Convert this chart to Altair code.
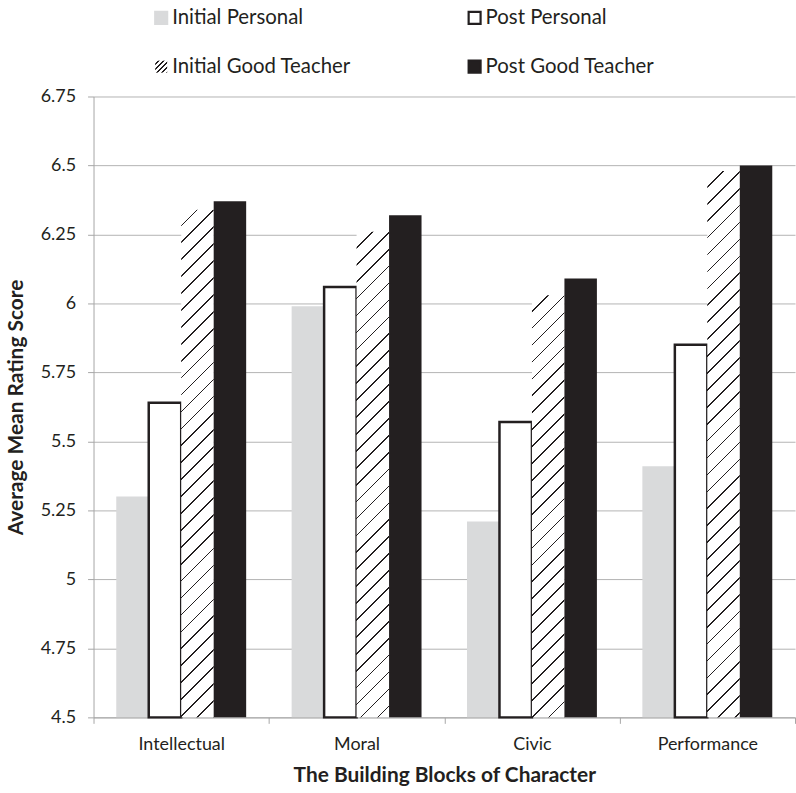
import altair as alt
import pandas as pd

# ---- data -------------------------------------------------------------
categories = ["Intellectual", "Moral", "Civic", "Performance"]
series = ["Initial Personal", "Post Personal", "Initial Good Teacher", "Post Good Teacher"]

initial_personal = [5.30, 5.99, 5.21, 5.41]
post_personal = [5.64, 6.06, 5.57, 5.85]
initial_good_teacher = [6.34, 6.26, 6.03, 6.48]
post_good_teacher = [6.37, 6.32, 6.09, 6.50]

y_ticks = [4.5, 4.75, 5.0, 5.25, 5.5, 5.75, 6.0, 6.25, 6.5, 6.75]

legend_col = [0, 1, 0, 1]
legend_row = [0, 0, 1, 1]

# ---- tables -----------------------------------------------------------
values_by_series = dict(zip(series, [initial_personal, post_personal,
                                     initial_good_teacher, post_good_teacher]))
rows = []
for s, vals in values_by_series.items():
    for c, v in zip(categories, vals):
        rows.append({"category": c, "series": s, "value": v})
df = pd.DataFrame(rows)

legend_df = pd.DataFrame({"label": series, "col": legend_col, "row": legend_row})

# ---- layout / style ---------------------------------------------------
PLOT_W, PLOT_H = 705, 624
Y_MIN, Y_MAX = y_ticks[0], y_ticks[-1]
OFFSET_PAD = 0.7
INK = "#231f20"
LIGHT = "#d9dadb"
FONT = "Lato"

band_w = PLOT_W / len(categories)
sub_w = band_w / (len(series) + 2 * OFFSET_PAD)


def hatch(width, height, period, thick, color=INK, bg="white"):
    """Diagonal '/' stripes as a bounding-box linear gradient."""
    length = width + height
    s = length / (width ** 2 + height ** 2)
    stops = []
    a = 0.0
    while a < length:
        b = min(a + period - thick, length)
        c = min(a + period, length)
        stops += [(a / length, bg), (b / length, bg), (b / length, color), (c / length, color)]
        a += period
    return alt.LinearGradient(
        gradient="linear",
        stops=[alt.GradientStop(offset=o, color=col) for o, col in stops],
        x1=0, y1=0, x2=width * s, y2=height * s,
    )


x_enc = alt.X(
    "category:N",
    sort=categories,
    scale=alt.Scale(domain=categories, paddingInner=0, paddingOuter=0),
    axis=alt.Axis(
        title="The Building Blocks of Character", labelAngle=0, tickBand="extent",
        tickSize=6, labelFontSize=18, labelPadding=12, titleFontSize=21,
        titleFontWeight="bold", titlePadding=11, grid=False,
    ),
)
xo_enc = alt.XOffset("series:N", scale=alt.Scale(domain=series, paddingInner=0, paddingOuter=OFFSET_PAD))
y_enc = alt.Y(
    "value:Q",
    scale=alt.Scale(domain=[Y_MIN, Y_MAX], zero=False, nice=False),
    axis=alt.Axis(
        values=y_ticks, labelExpr="'' + datum.value", title="Average Mean Rating Score",
        titleFontSize=21, titleFontWeight="bold", labelFontSize=18, tickSize=6,
        labelPadding=12, titlePadding=14, grid=True,
    ),
)

base = alt.Chart(df).encode(x=x_enc, xOffset=xo_enc, y=y_enc, y2=alt.datum(Y_MIN))

layers = [
    base.transform_filter(alt.datum.series == series[0]).mark_bar(color=LIGHT),
    base.transform_filter(alt.datum.series == series[1]).mark_bar(
        fill="white", stroke=INK, strokeWidth=2.5),
]
for c, v in zip(categories, initial_good_teacher):
    h = (v - Y_MIN) / (Y_MAX - Y_MIN) * PLOT_H
    layers.append(
        base.transform_filter(
            (alt.datum.series == series[2]) & (alt.datum.category == c)
        ).mark_bar(fill=hatch(sub_w, h, period=17, thick=1.7))
    )
layers.append(base.transform_filter(alt.datum.series == series[3]).mark_bar(color=INK))

main = alt.layer(*layers).properties(width=PLOT_W, height=PLOT_H)

# ---- legend -----------------------------------------------------------
lx = alt.X("col:O", scale=alt.Scale(type="point", domain=[0, 1], range=[68, 383], padding=0), axis=None)
ly = alt.Y("row:O", scale=alt.Scale(type="point", domain=[0, 1], range=[16, 65], padding=0), axis=None)
leg_base = alt.Chart(legend_df).encode(x=lx, y=ly)

solid = leg_base.transform_filter(alt.datum.label != series[2]).mark_square(
    size=144, strokeWidth=2.2, opacity=1
).encode(
    fill=alt.Fill("label:N", scale=alt.Scale(domain=series, range=[LIGHT, "white", "white", INK]), legend=None),
    stroke=alt.Stroke("label:N", scale=alt.Scale(domain=series, range=[LIGHT, INK, INK, INK]), legend=None),
)
hatched = leg_base.transform_filter(alt.datum.label == series[2]).mark_square(
    size=144, opacity=1, fill=hatch(12, 12, period=5, thick=2.0)
)
texts = leg_base.mark_text(align="left", baseline="middle", dx=11, font=FONT, fontSize=20.5, color=INK).encode(
    text="label:N"
)
legend = alt.layer(solid, hatched, texts).properties(width=PLOT_W, height=80)

chart = alt.vconcat(legend, main, spacing=6).properties(
    padding={"left": 5, "top": 0, "right": 0, "bottom": 0}
).configure_view(stroke=None).configure_axis(
    labelFont=FONT, titleFont=FONT, labelColor=INK, titleColor=INK,
    domainColor="#a6a6a6", tickColor="#a6a6a6", gridColor="#b3b3b3",
)

chart.save("out.html", embed_options={"renderer": "svg", "actions": False})
